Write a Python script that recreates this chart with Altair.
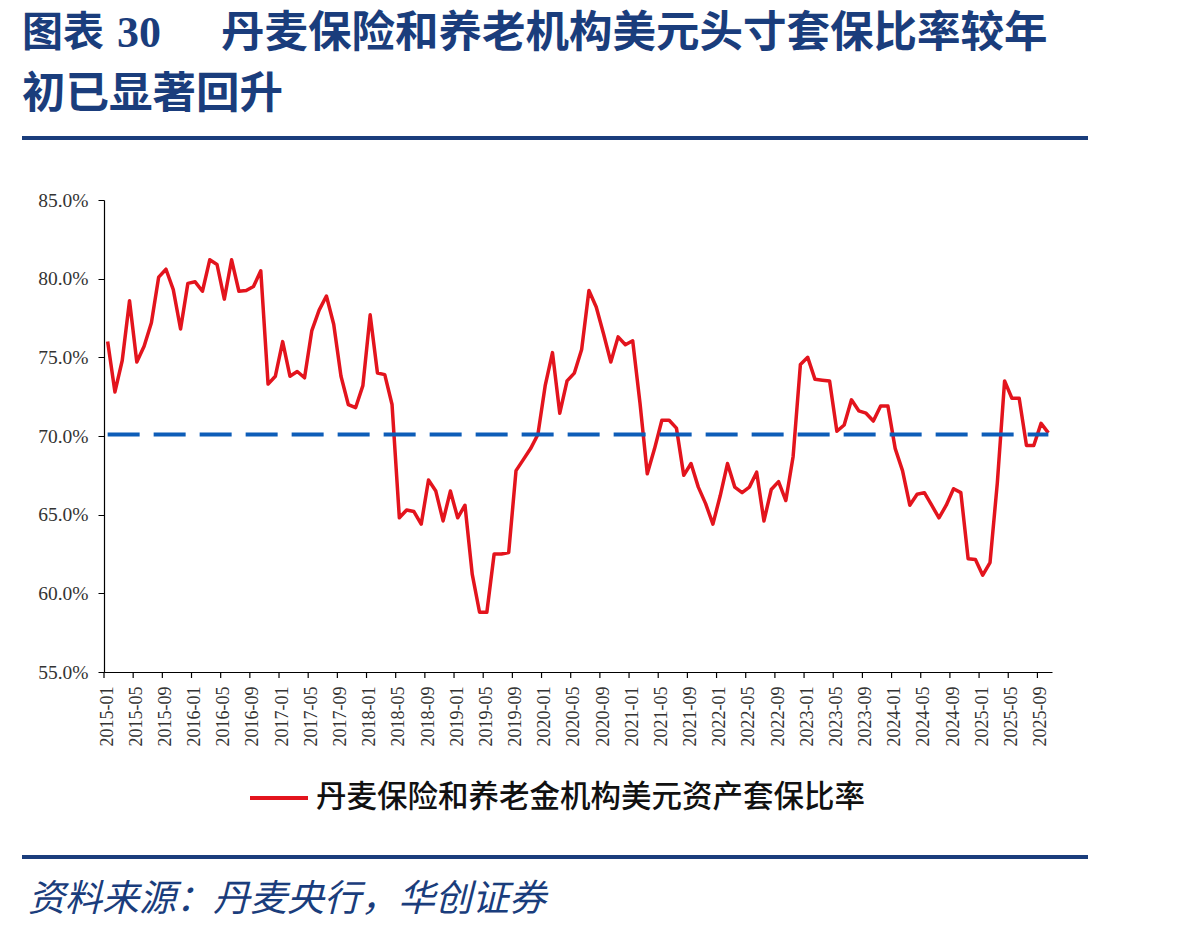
import altair as alt
import pandas as pd

# ---- data ----
months = [f"{y}-{m:02d}" for y in range(2015, 2026) for m in range(1, 13)][:130]
ratio = [
    76.0, 72.8, 74.8, 78.6, 74.7, 75.7, 77.2, 80.1, 80.6, 79.3,
    76.8, 79.7, 79.8, 79.2, 81.2, 80.9, 78.7, 81.2, 79.2, 79.25,
    79.5, 80.5, 73.3, 73.8, 76.0, 73.8, 74.1, 73.7, 76.7, 78.0,
    78.9, 77.1, 73.8, 72.0, 71.8, 73.2, 77.7, 74.0, 73.9, 72.0,
    64.8, 65.3, 65.2, 64.4, 67.2, 66.5, 64.6, 66.5, 64.8, 65.6,
    61.2, 58.8, 58.8, 62.5, 62.5, 62.6, 67.8, 68.5, 69.2, 70.1,
    73.2, 75.3, 71.45, 73.5, 74.0, 75.5, 79.25, 78.2, 76.5, 74.7,
    76.3, 75.8, 76.05, 72.1, 67.6, 69.2, 71.0, 71.0, 70.5, 67.5,
    68.25, 66.75, 65.7, 64.4, 66.2, 68.25, 66.75, 66.4, 66.75, 67.7,
    64.6, 66.6, 67.1, 65.9, 68.7, 74.55, 75.0, 73.6, 73.55, 73.5,
    70.3, 70.7, 72.3, 71.6, 71.45, 70.95, 71.9, 71.9, 69.2, 67.8,
    65.6, 66.3, 66.4, 65.6, 64.8, 65.6, 66.65, 66.4, 62.2, 62.15,
    61.15, 61.95, 67.0, 73.5, 72.4, 72.4, 69.4, 69.4, 70.8, 70.2,
]
avg_level = 70.1
tick_months = months[::4]
y_ticks = [55, 60, 65, 70, 75, 80, 85]

title_a = "图表"
title_num = "30"
title_b = "丹麦保险和养老机构美元头寸套保比率较年"
title_c = "初已显著回升"
legend_label = "丹麦保险和养老金机构美元资产套保比率"
source_text = "资料来源：丹麦央行，华创证券"

# ---- layout ----
W, H = 948, 472
PAD_L, PAD_T = 104, 200
DARK_BLUE = "#1A3D7C"
RED = "#E3141D"
BLUE = "#0D5DB8"
CJK = "Noto Sans CJK SC"
SERIF = "Liberation Serif"

df = pd.DataFrame({"month": months, "ratio": ratio, "avg": [avg_level] * len(months)})
df_ticks = pd.DataFrame({"month": tick_months})

xscale = alt.Scale(type="band", paddingInner=0, paddingOuter=0, domain=months)
yscale = alt.Scale(domain=[55, 85], nice=False, zero=False)

base = alt.Chart(df)

line = base.mark_line(color=RED, strokeWidth=3.5, strokeJoin="round").encode(
    x=alt.X(
        "month:O",
        bandPosition=0.5,
        scale=xscale,
        sort=None,
        title=None,
        axis=alt.Axis(
            values=tick_months,
            labelAngle=-90,
            labelAlign="right",
            labelBaseline="middle",
            labelFont=SERIF,
            labelFontSize=18,
            labelColor="#333333",
            labelPadding=14,
            ticks=False,
            domainColor="#000000",
            domainWidth=1.2,
            grid=False,
            labelOverlap=False,
        ),
    ),
    y=alt.Y(
        "ratio:Q",
        scale=yscale,
        title=None,
        axis=alt.Axis(
            values=y_ticks,
            labelExpr="format(datum.value, '.1f') + '%'",
            labelFont=SERIF,
            labelFontSize=19.5,
            labelColor="#333333",
            labelPadding=10,
            tickSize=6,
            tickColor="#000000",
            domainColor="#000000",
            domainWidth=1.2,
            grid=False,
        ),
    ),
)

avg_line = base.mark_line(color=BLUE, strokeWidth=4, strokeDash=[32, 14]).encode(
    x=alt.X("month:O", bandPosition=0.5, scale=xscale, sort=None, title=None),
    y=alt.Y("avg:Q", scale=yscale, title=None),
)

xticks = alt.Chart(df_ticks).mark_rule(color="#000000", strokeWidth=1.2).encode(
    x=alt.X("month:O", bandPosition=0, scale=xscale, sort=None, title=None),
    y=alt.value(H),
    y2=alt.value(H + 6),
)


def txt(t, x, y, size, color="#000000", weight="normal", font=CJK, style="normal"):
    return alt.Chart(pd.DataFrame({"t": [t]})).mark_text(
        align="left", baseline="middle", font=font, fontSize=size,
        fontWeight=weight, fontStyle=style, color=color,
    ).encode(x=alt.value(x - PAD_L), y=alt.value(y - PAD_T), text="t:N")


def hrule(x1, x2, y, color, width):
    return alt.Chart(pd.DataFrame({"a": [0]})).mark_rule(color=color, strokeWidth=width).encode(
        x=alt.value(x1 - PAD_L), x2=alt.value(x2 - PAD_L), y=alt.value(y - PAD_T)
    )


t1 = txt(title_a, 22, 34, 41, DARK_BLUE, "bold")
t2 = txt(title_num, 117, 34, 44, DARK_BLUE, "bold", SERIF)
t3 = txt(title_b, 221, 34, 43.5, DARK_BLUE, "bold")
t4 = txt(title_c, 22, 95, 43.5, DARK_BLUE, "bold")
top_rule = hrule(22, 1088, 138, DARK_BLUE, 4)
bot_rule = hrule(22, 1088, 857, DARK_BLUE, 4)
leg_line = hrule(250, 308, 798, RED, 4)
leg_text = txt(legend_label, 316, 798, 30.5, "#111111", 500)
src = txt(source_text, 28, 900, 37, DARK_BLUE, "normal", CJK, "italic")

chart = alt.layer(
    line, avg_line, xticks,
    t1, t2, t3, t4, top_rule, bot_rule, leg_line, leg_text, src,
).properties(
    width=W, height=H,
    autosize=alt.AutoSizeParams(type="none"),
    padding={"left": PAD_L, "top": PAD_T, "right": 1198 - PAD_L - W, "bottom": 934 - PAD_T - H},
    background="#ffffff",
).configure_view(stroke=None)

chart.save("out.html", embed_options={"renderer": "svg", "actions": False})
